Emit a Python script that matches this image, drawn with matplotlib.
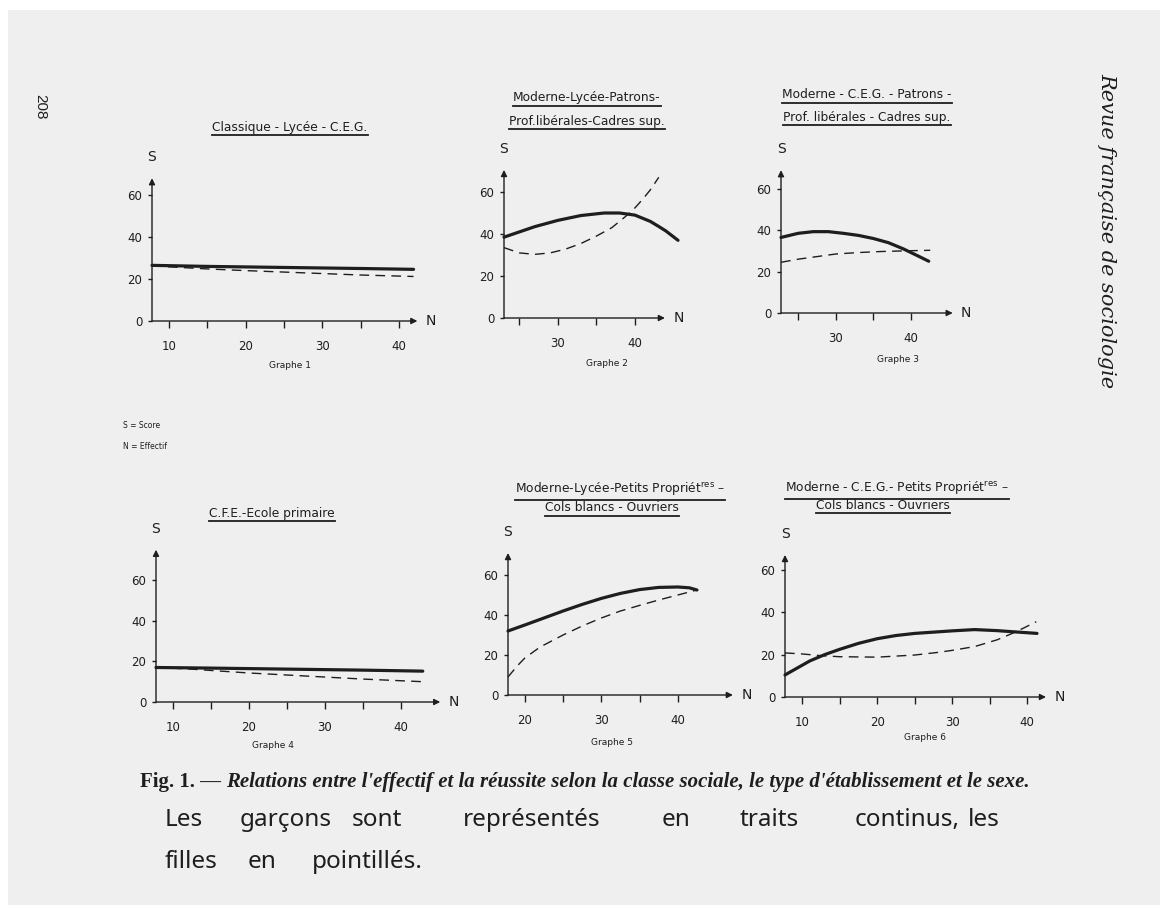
import matplotlib.pyplot as plt
from matplotlib.lines import Line2D
from matplotlib.patches import Rectangle

W, H = 1168, 913
ink = "#1e1e1e"
paper = "#efefef"

# ---- data (N = effectif, S = score) ----
# boys = solid, girls = dashed
g1_boys_n = [7.8, 15, 25, 35, 41.9]
g1_boys_s = [26.5, 26.0, 25.5, 25.0, 24.6]
g1_girls_n = [7.8, 10, 15, 20, 25, 30, 35, 41.9]
g1_girls_s = [26.3, 25.8, 24.8, 24.0, 23.3, 22.6, 21.9, 21.2]

g2_boys_n = [23, 25, 27, 30, 33, 36, 38, 40, 42, 43, 44, 45.6]
g2_boys_s = [38.5, 41, 43.5, 46.5, 48.8, 50, 50, 49, 46, 43.8, 41.5, 37]
g2_girls_n = [23, 25, 27, 29, 31, 33, 35, 36, 37, 39, 40, 41, 42, 43.1]
g2_girls_s = [33.5, 31, 30.3, 31, 32.8, 35.5, 39, 41, 43, 49, 52.4, 56.5, 61, 67]

g3_boys_n = [22.7, 25, 27, 29, 31, 33, 35, 37, 39, 41, 42.4]
g3_boys_s = [36.5, 38.5, 39.3, 39.3, 38.5, 37.5, 36, 34, 31, 27.5, 25]
g3_girls_n = [22.7, 25, 27, 30, 33, 36, 39, 42.6]
g3_girls_s = [24.5, 26, 27, 28.5, 29.2, 29.7, 30, 30.3]

g4_boys_n = [7.8, 15, 25, 35, 42.9]
g4_boys_s = [17, 16.7, 16.2, 15.7, 15.2]
g4_girls_n = [7.8, 12, 16, 20, 25, 30, 35, 42.9]
g4_girls_s = [17, 16.3, 15.3, 14.3, 13.3, 12.3, 11.3, 10]

g5_boys_n = [17.8, 20, 22.5, 25, 27.5, 30, 32.5, 35, 37.5, 40, 41.5, 42.5]
g5_boys_s = [32, 35, 38.5, 42, 45.3, 48.3, 50.8, 52.7, 53.8, 54, 53.6, 52.5]
g5_girls_n = [17.8, 19, 20, 22, 25, 27.5, 30, 32.5, 35, 37.5, 40, 42.5]
g5_girls_s = [9, 14.5, 18.5, 24, 30, 34.5, 38.5, 42, 44.8, 47.5, 50, 52.5]

g6_boys_n = [7.7, 9, 11, 13, 15, 17.5, 20, 22.5, 25, 30, 33, 36, 38, 41.3]
g6_boys_s = [10.4, 13, 17, 20, 22.5, 25.3, 27.5, 29, 30, 31.2, 31.8, 31.3, 30.8, 30]
g6_girls_n = [7.7, 10, 12.5, 15, 20, 25, 28, 30, 33, 36, 38, 39.5, 41.2]
g6_girls_s = [20.8, 20.3, 19.5, 19, 18.8, 19.8, 21, 22, 23.8, 27, 30, 32.5, 35.5]

titles = [
    ["Classique - Lycée - C.E.G."],
    ["Moderne-Lycée-Patrons-", "Prof.libérales-Cadres sup."],
    ["Moderne - C.E.G. - Patrons -", "Prof. libérales - Cadres sup."],
    ["C.F.E.-Ecole primaire"],
    [r"Moderne-Lycée-Petits Propriét$^{\mathrm{res}}$ –", "Cols blancs - Ouvriers"],
    [r"Moderne - C.E.G.- Petits Propriét$^{\mathrm{res}}$ –", "Cols blancs - Ouvriers"],
]
graph_names = ["Graphe 1", "Graphe 2", "Graphe 3", "Graphe 4", "Graphe 5", "Graphe 6"]
y_ticks = [0, 20, 40, 60]

# panel layout in page pixels: y-axis x, x-axis y, first N, px per N, px per S,
# arrow ends, tick sets
panels = [
    dict(x0=152, y0=321, n0=7.8, ppn=7.67, pps=2.1, n_arr=42.4, s_arr=68,
         major=[10, 20, 30, 40], minor=[15, 25, 35],
         data=(g1_boys_n, g1_boys_s, g1_girls_n, g1_girls_s),
         title_xy=[(290, 127)], name_xy=(290, 366)),
    dict(x0=504, y0=318, n0=23, ppn=7.7, pps=2.1, n_arr=43.9, s_arr=70.5,
         major=[30, 40], minor=[25, 35],
         data=(g2_boys_n, g2_boys_s, g2_girls_n, g2_girls_s),
         title_xy=[(587, 98), (587, 121)], name_xy=(607, 363)),
    dict(x0=781, y0=313, n0=22.7, ppn=7.5, pps=2.07, n_arr=45.6, s_arr=69,
         major=[30, 40], minor=[25, 35],
         data=(g3_boys_n, g3_boys_s, g3_girls_n, g3_girls_s),
         title_xy=[(867, 95), (867, 117)], name_xy=(898, 359)),
    dict(x0=156, y0=702, n0=7.8, ppn=7.6, pps=2.03, n_arr=45.2, s_arr=75,
         major=[10, 20, 30, 40], minor=[15, 25, 35],
         data=(g4_boys_n, g4_boys_s, g4_girls_n, g4_girls_s),
         title_xy=[(272, 513)], name_xy=(273, 745)),
    dict(x0=508, y0=695, n0=17.8, ppn=7.65, pps=2.0, n_arr=47.2, s_arr=71,
         major=[20, 30, 40], minor=[25, 35],
         data=(g5_boys_n, g5_boys_s, g5_girls_n, g5_girls_s),
         title_xy=[(620, 489), (612, 507)], name_xy=(612, 742)),
    dict(x0=785, y0=697, n0=7.7, ppn=7.5, pps=2.12, n_arr=42.5, s_arr=67,
         major=[10, 20, 30, 40], minor=[15, 25, 35],
         data=(g6_boys_n, g6_boys_s, g6_girls_n, g6_girls_s),
         title_xy=[(897, 488), (883, 505)], name_xy=(925, 737)),
]


def fx(x):
    return x / W


def fy(y):
    return 1 - y / H


fig = plt.figure(figsize=(W / 100, H / 100), dpi=100)
fig.patch.set_facecolor("white")
fig.add_artist(Rectangle((fx(8), fy(905)), fx(1152), (905 - 10) / H,
                         transform=fig.transFigure, facecolor=paper,
                         edgecolor="none", zorder=-10))

font = "DejaVu Sans"
title_texts = []

for i, p in enumerate(panels):
    bn, bs, gn, gs = p["data"]
    n_lim = max(p["n_arr"], max(bn), max(gn)) + 0.5
    s_lim = max(p["s_arr"], max(bs), max(gs)) + 1
    ax = fig.add_axes([fx(p["x0"]), fy(p["y0"]),
                       (n_lim - p["n0"]) * p["ppn"] / W, s_lim * p["pps"] / H])
    ax.set_xlim(p["n0"], n_lim)
    ax.set_ylim(0, s_lim)
    ax.patch.set_alpha(0)
    for sp in ax.spines.values():
        sp.set_visible(False)

    arrow = dict(arrowstyle="-|>", lw=1.0, color=ink, mutation_scale=9,
                 shrinkA=0, shrinkB=0)
    ax.annotate("", xy=(p["n_arr"], 0), xytext=(p["n0"], 0),
                arrowprops=arrow, annotation_clip=False)
    ax.annotate("", xy=(p["n0"], p["s_arr"]), xytext=(p["n0"], 0),
                arrowprops=arrow, annotation_clip=False)
    ax.annotate("N", xy=(p["n_arr"], 0), xytext=(6, 0), textcoords="offset points",
                ha="left", va="center", fontsize=10, color=ink, family=font)
    ax.annotate("S", xy=(p["n0"], p["s_arr"]), xytext=(0, 10), textcoords="offset points",
                ha="center", va="bottom", fontsize=10, color=ink, family=font)

    ax.set_xticks(p["major"], [str(v) for v in p["major"]])
    ax.set_xticks(p["minor"], minor=True)
    ax.set_yticks(y_ticks, [str(v) for v in y_ticks])
    ax.tick_params(axis="x", which="both", direction="out", length=5, width=1,
                   colors=ink, labelsize=8.5, pad=9)
    ax.tick_params(axis="y", direction="out", length=3, width=1,
                   colors=ink, labelsize=8.5, pad=4)

    ax.plot(bn, bs, color=ink, lw=2.3, solid_capstyle="round", clip_on=False)
    ax.plot(gn, gs, color=ink, lw=1.0, dashes=(7, 4.5), clip_on=False)

    for line, (tx, ty) in zip(titles[i], p["title_xy"]):
        t = fig.text(fx(tx), fy(ty), line, ha="center", va="center",
                     fontsize=8.8, color=ink, family=font)
        title_texts.append(t)

    nx, ny = p["name_xy"]
    fig.text(fx(nx), fy(ny), graph_names[i], ha="center", va="center",
             fontsize=6.5, color=ink, family=font)

fig.text(fx(123), fy(426), "S = Score", ha="left", va="center", fontsize=5.5,
         color=ink, family=font)
fig.text(fx(123), fy(446), "N = Effectif", ha="left", va="center", fontsize=5.5,
         color=ink, family=font)

fig.text(fx(40), fy(107), "208", rotation=-90, ha="center", va="center",
         fontsize=11, color=ink, family="Liberation Sans")
fig.text(fx(1107), fy(231), "Revue française de sociologie", rotation=-90,
         ha="center", va="center", fontsize=15, style="italic", color=ink,
         family="DejaVu Serif")

# caption
cap_size = 15
cap1 = fig.text(fx(140), fy(782), "Fig. 1. — ", ha="left", va="center",
                fontsize=cap_size, weight="bold", color=ink, family="Liberation Serif")
fig.canvas.draw()
r = fig.canvas.get_renderer()
bb = cap1.get_window_extent(r)
fig.text(bb.x1 / W, fy(782),
         "Relations entre l'effectif et la réussite selon la classe sociale, "
         "le type d'établissement et le sexe.",
         ha="left", va="center", fontsize=cap_size, weight="bold", style="italic",
         color=ink, family="Liberation Serif")

# handwritten note
hand = dict(ha="left", va="center", fontsize=17.5, color=ink, family="Noto Sans")
line1 = [("Les", 165), ("garçons", 240), ("sont", 352), ("représentés", 463),
         ("en", 662), ("traits", 740), ("continus,", 855), ("les", 968)]
line2 = [("filles", 165), ("en", 248), ("pointillés.", 312)]
for word, x in line1:
    fig.text(fx(x), fy(820), word, **hand)
for word, x in line2:
    fig.text(fx(x), fy(862), word, **hand)

# underline titles
for t in title_texts:
    bb = t.get_window_extent(r)
    y = bb.y0 - 2
    fig.add_artist(Line2D([bb.x0 / W, bb.x1 / W], [y / H, y / H],
                          transform=fig.transFigure, color=ink, lw=1.3))

fig.savefig("out.png", dpi=100, facecolor=fig.get_facecolor())
